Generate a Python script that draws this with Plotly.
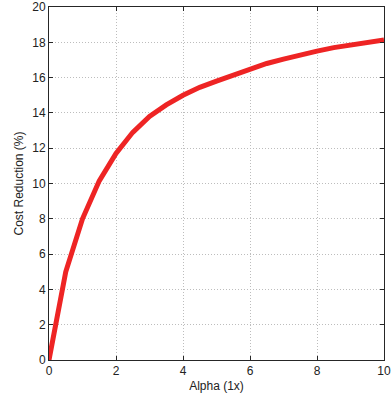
import plotly.graph_objects as go

# Cost reduction versus alpha
alpha = [0, 0.5, 1, 1.5, 2, 2.5, 3, 3.5, 4, 4.5, 5, 5.5, 6, 6.5, 7, 7.5, 8, 8.5, 9, 9.5, 10]
cost_reduction = [0, 5.0, 8.0, 10.15, 11.7, 12.9, 13.8, 14.45, 15.0, 15.45, 15.8,
                  16.15, 16.45, 16.8, 17.05, 17.3, 17.5, 17.7, 17.85, 18.0, 18.13]

x_ticks = [0, 2, 4, 6, 8, 10]
y_ticks = [0, 2, 4, 6, 8, 10, 12, 14, 16, 18, 20]

font_family = "Liberation Sans, Arial, Helvetica, sans-serif"

fig = go.Figure()
fig.add_trace(go.Scatter(
    x=alpha, y=cost_reduction, mode="lines",
    line=dict(color="#ee2424", width=5),
    showlegend=False,
))

axis_common = dict(
    showline=True, linecolor="#262626", linewidth=1, mirror="ticks",
    ticks="inside", ticklen=4, tickcolor="#262626",
    showgrid=True, gridcolor="#bdbdbd", griddash="1px,2px", gridwidth=1,
    zeroline=False, automargin=False,
    tickfont=dict(family=font_family, size=12, color="#222222"),
)

fig.update_layout(
    width=392, height=397,
    margin=dict(l=49, r=8, t=7, b=37),
    paper_bgcolor="white", plot_bgcolor="white",
    font=dict(family=font_family, size=12, color="#222222"),
    xaxis=dict(range=[0, 10], tickvals=x_ticks,
               title=dict(text="Alpha (1x)", standoff=4,
                          font=dict(family=font_family, size=12)),
               **axis_common),
    yaxis=dict(range=[0, 20], tickvals=y_ticks,
               title=dict(text="Cost Reduction (%)", standoff=6,
                          font=dict(family=font_family, size=12)),
               **axis_common),
)

fig.write_html("out.html")
